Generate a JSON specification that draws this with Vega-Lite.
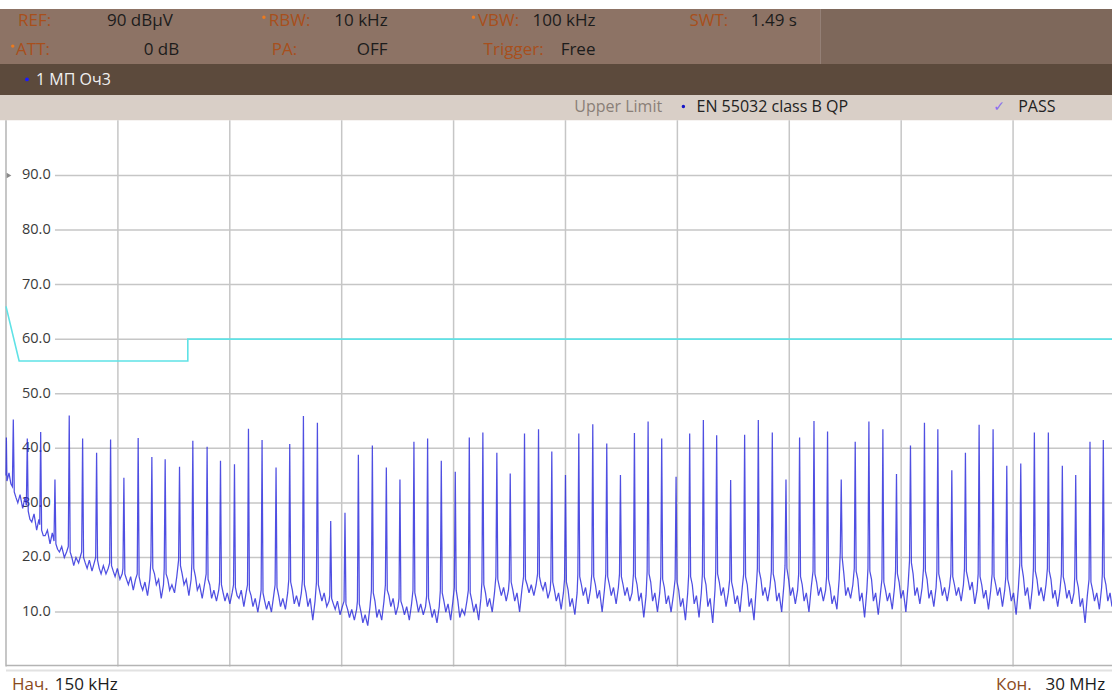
{
 "$schema": "https://vega.github.io/schema/vega-lite/v6.json",
 "width": 1113, "height": 694, "padding": 0,
 "autosize": {"type": "fit", "contains": "padding"},
 "background": "#ffffff",
 "config": {"view": {"stroke": null}, "axis": {"disable": true}, "font": "Open Sans"},
 "data": {"values": [{"note": "annotation"}]},
 "datasets": {
  "trace": [
   {"f":0.15,"v":35},{"f":0.16,"v":42},{"f":0.175,"v":34},{"f":0.23,"v":35.5},{"f":0.28,"v":33.5},
   {"f":0.320,"v":33},{"f":0.345,"v":45.3},{"f":0.370,"v":32},{"f":0.465,"v":30},{"f":0.595,"v":29},
   {"f":0.693,"v":29.5},{"f":0.718,"v":41.8},{"f":0.743,"v":28.5},{"f":0.838,"v":26.5},{"f":0.968,"v":25},
   {"f":1.050,"v":26},{"f":1.075,"v":43.0},{"f":1.100,"v":25},{"f":1.195,"v":24},{"f":1.325,"v":22.5},
   {"f":1.431,"v":23},{"f":1.456,"v":34.3},{"f":1.481,"v":22.5},{"f":1.576,"v":21},{"f":1.706,"v":20},
   {"f":1.812,"v":22},{"f":1.837,"v":46.0},{"f":1.862,"v":21},{"f":1.957,"v":18.5},{"f":2.087,"v":19},
   {"f":2.169,"v":21},{"f":2.194,"v":41.8},{"f":2.219,"v":20},{"f":2.314,"v":18},{"f":2.444,"v":17.5},
   {"f":2.542,"v":20},{"f":2.567,"v":39.2},{"f":2.592,"v":19.5},{"f":2.687,"v":17},{"f":2.817,"v":17},
   {"f":2.915,"v":19},{"f":2.940,"v":41.6},{"f":2.965,"v":18.5},{"f":3.060,"v":16.5},{"f":3.190,"v":16},
   {"f":3.270,"v":18},{"f":3.295,"v":34.6},{"f":3.320,"v":17},{"f":3.415,"v":15},{"f":3.545,"v":14},
   {"f":3.651,"v":17},{"f":3.676,"v":41.9},{"f":3.701,"v":16.5},{"f":3.796,"v":14},{"f":3.926,"v":13},
   {"f":4.016,"v":19.5},{"f":4.041,"v":38.4},{"f":4.066,"v":18},{"f":4.161,"v":15},{"f":4.291,"v":12.5},
   {"f":4.371,"v":18},{"f":4.396,"v":38.0},{"f":4.421,"v":17},{"f":4.516,"v":14},{"f":4.646,"v":13.5},
   {"f":4.754,"v":19.5},{"f":4.779,"v":36.6},{"f":4.804,"v":18.5},{"f":4.899,"v":15},{"f":5.029,"v":13},
   {"f":5.109,"v":19},{"f":5.134,"v":41.4},{"f":5.159,"v":18},{"f":5.254,"v":14},{"f":5.384,"v":12.5},
   {"f":5.490,"v":17},{"f":5.515,"v":40.3},{"f":5.540,"v":16},{"f":5.635,"v":12.5},{"f":5.765,"v":12},
   {"f":5.847,"v":15.5},{"f":5.872,"v":37.7},{"f":5.897,"v":15},{"f":5.992,"v":12},{"f":6.122,"v":11.5},
   {"f":6.220,"v":15},{"f":6.245,"v":37.1},{"f":6.270,"v":14.5},{"f":6.365,"v":12.5},{"f":6.495,"v":11},
   {"f":6.593,"v":15},{"f":6.618,"v":43.6},{"f":6.643,"v":14},{"f":6.738,"v":11},{"f":6.868,"v":10},
   {"f":6.956,"v":14},{"f":6.981,"v":41.5},{"f":7.006,"v":13.5},{"f":7.101,"v":10.5},{"f":7.231,"v":10},
   {"f":7.329,"v":15},{"f":7.354,"v":36.5},{"f":7.379,"v":14.5},{"f":7.474,"v":11},{"f":7.604,"v":10.5},
   {"f":7.694,"v":16},{"f":7.719,"v":40.8},{"f":7.744,"v":15.5},{"f":7.839,"v":11.5},{"f":7.969,"v":11},
   {"f":8.059,"v":16},{"f":8.084,"v":45.9},{"f":8.109,"v":15},{"f":8.204,"v":11},{"f":8.334,"v":8.5},
   {"f":8.432,"v":15.5},{"f":8.457,"v":44.7},{"f":8.482,"v":15},{"f":8.577,"v":12},{"f":8.707,"v":11},
   {"f":8.787,"v":13},{"f":8.812,"v":26.7},{"f":8.837,"v":12.5},{"f":8.932,"v":10.5},{"f":9.062,"v":9.5},
   {"f":9.168,"v":12},{"f":9.193,"v":28.2},{"f":9.218,"v":11.5},{"f":9.313,"v":9},{"f":9.443,"v":8.5},
   {"f":9.525,"v":12},{"f":9.550,"v":38.8},{"f":9.575,"v":11.5},{"f":9.670,"v":8},{"f":9.800,"v":7.5},
   {"f":9.898,"v":14},{"f":9.923,"v":40.5},{"f":9.948,"v":13.5},{"f":10.043,"v":9},{"f":10.173,"v":8.5},
   {"f":10.271,"v":15},{"f":10.296,"v":36.5},{"f":10.321,"v":14},{"f":10.416,"v":11},{"f":10.546,"v":9.5},
   {"f":10.634,"v":12.5},{"f":10.659,"v":34.3},{"f":10.684,"v":12},{"f":10.779,"v":9.5},{"f":10.909,"v":8.5},
   {"f":11.007,"v":14},{"f":11.032,"v":41.2},{"f":11.057,"v":13.5},{"f":11.152,"v":10},{"f":11.282,"v":9.5},
   {"f":11.372,"v":13},{"f":11.397,"v":41.8},{"f":11.422,"v":12.5},{"f":11.517,"v":9},{"f":11.647,"v":8},
   {"f":11.737,"v":14},{"f":11.762,"v":37.7},{"f":11.787,"v":13.5},{"f":11.882,"v":10},{"f":12.012,"v":8.5},
   {"f":12.110,"v":14.5},{"f":12.135,"v":35.7},{"f":12.160,"v":14},{"f":12.255,"v":9},{"f":12.385,"v":9.5},
   {"f":12.484,"v":14},{"f":12.509,"v":42.0},{"f":12.534,"v":13.5},{"f":12.629,"v":10},{"f":12.759,"v":8.5},
   {"f":12.846,"v":15.5},{"f":12.871,"v":42.9},{"f":12.896,"v":15},{"f":12.991,"v":11},{"f":13.121,"v":10},
   {"f":13.219,"v":16.5},{"f":13.244,"v":39.2},{"f":13.269,"v":16},{"f":13.364,"v":13},{"f":13.494,"v":12},
   {"f":13.576,"v":16},{"f":13.601,"v":35.4},{"f":13.626,"v":15.5},{"f":13.721,"v":12},{"f":13.851,"v":10},
   {"f":13.957,"v":16.5},{"f":13.982,"v":42.7},{"f":14.007,"v":16},{"f":14.102,"v":13.5},{"f":14.232,"v":13},
   {"f":14.331,"v":17},{"f":14.356,"v":43.5},{"f":14.381,"v":16.5},{"f":14.476,"v":14},{"f":14.606,"v":12.5},
   {"f":14.685,"v":16},{"f":14.710,"v":39.4},{"f":14.735,"v":15.5},{"f":14.830,"v":12},{"f":14.960,"v":10.5},
   {"f":15.050,"v":16},{"f":15.075,"v":35.1},{"f":15.100,"v":15.5},{"f":15.195,"v":11},{"f":15.325,"v":9.5},
   {"f":15.405,"v":17},{"f":15.430,"v":42.7},{"f":15.455,"v":16.5},{"f":15.550,"v":13},{"f":15.680,"v":11.5},
   {"f":15.778,"v":17},{"f":15.803,"v":44.4},{"f":15.828,"v":16.5},{"f":15.923,"v":12.5},{"f":16.053,"v":10},
   {"f":16.151,"v":17},{"f":16.176,"v":40.9},{"f":16.201,"v":16.5},{"f":16.296,"v":13},{"f":16.426,"v":11.5},
   {"f":16.516,"v":17},{"f":16.541,"v":35.1},{"f":16.566,"v":16.5},{"f":16.661,"v":13},{"f":16.791,"v":12},
   {"f":16.889,"v":17},{"f":16.914,"v":42.8},{"f":16.939,"v":16.5},{"f":17.034,"v":12},{"f":17.164,"v":9},
   {"f":17.254,"v":17.5},{"f":17.279,"v":44.9},{"f":17.304,"v":17},{"f":17.399,"v":12},{"f":17.529,"v":10},
   {"f":17.617,"v":16.5},{"f":17.642,"v":41.8},{"f":17.667,"v":16},{"f":17.762,"v":11.5},{"f":17.892,"v":10},
   {"f":18.000,"v":16},{"f":18.025,"v":34.8},{"f":18.050,"v":15.5},{"f":18.145,"v":11},{"f":18.275,"v":8.5},
   {"f":18.363,"v":17},{"f":18.388,"v":42.7},{"f":18.413,"v":16.5},{"f":18.508,"v":11.5},{"f":18.638,"v":9},
   {"f":18.728,"v":17},{"f":18.753,"v":45.2},{"f":18.778,"v":16.5},{"f":18.873,"v":11},{"f":19.003,"v":8},
   {"f":19.083,"v":17.5},{"f":19.108,"v":42.4},{"f":19.133,"v":17},{"f":19.228,"v":13},{"f":19.358,"v":11},
   {"f":19.456,"v":16},{"f":19.481,"v":34.2},{"f":19.506,"v":15.5},{"f":19.601,"v":11.5},{"f":19.731,"v":10},
   {"f":19.829,"v":17},{"f":19.854,"v":42.5},{"f":19.879,"v":16.5},{"f":19.974,"v":11},{"f":20.104,"v":8.5},
   {"f":20.194,"v":18},{"f":20.219,"v":45.2},{"f":20.244,"v":17.5},{"f":20.339,"v":13},{"f":20.469,"v":12},
   {"f":20.567,"v":17.5},{"f":20.592,"v":42.9},{"f":20.617,"v":17},{"f":20.712,"v":12},{"f":20.842,"v":10},
   {"f":20.932,"v":18.5},{"f":20.957,"v":34.3},{"f":20.982,"v":18},{"f":21.077,"v":13},{"f":21.207,"v":11.5},
   {"f":21.295,"v":17},{"f":21.320,"v":42.0},{"f":21.345,"v":16.5},{"f":21.440,"v":12},{"f":21.570,"v":10},
   {"f":21.679,"v":17.5},{"f":21.704,"v":45.0},{"f":21.729,"v":17},{"f":21.824,"v":13},{"f":21.954,"v":12},
   {"f":22.041,"v":16.5},{"f":22.066,"v":43.1},{"f":22.091,"v":16},{"f":22.186,"v":11.5},{"f":22.316,"v":10.5},
   {"f":22.406,"v":21},{"f":22.431,"v":34.3},{"f":22.456,"v":20},{"f":22.551,"v":13},{"f":22.681,"v":12.5},
   {"f":22.779,"v":18},{"f":22.804,"v":41.2},{"f":22.829,"v":17.5},{"f":22.924,"v":12},{"f":23.054,"v":9},
   {"f":23.144,"v":18},{"f":23.169,"v":44.9},{"f":23.194,"v":17.5},{"f":23.289,"v":12},{"f":23.419,"v":9.5},
   {"f":23.517,"v":16},{"f":23.542,"v":43.5},{"f":23.567,"v":15.5},{"f":23.662,"v":12},{"f":23.792,"v":10.5},
   {"f":23.880,"v":17.5},{"f":23.905,"v":35.3},{"f":23.930,"v":17},{"f":24.025,"v":12.5},{"f":24.155,"v":10},
   {"f":24.253,"v":19.5},{"f":24.278,"v":40.5},{"f":24.303,"v":19},{"f":24.398,"v":13},{"f":24.528,"v":11.5},
   {"f":24.626,"v":18},{"f":24.651,"v":44.7},{"f":24.676,"v":17.5},{"f":24.771,"v":12.5},{"f":24.901,"v":11},
   {"f":24.983,"v":17.5},{"f":25.008,"v":43.5},{"f":25.033,"v":17},{"f":25.128,"v":13},{"f":25.258,"v":12},
   {"f":25.356,"v":17},{"f":25.381,"v":36.0},{"f":25.406,"v":16.5},{"f":25.501,"v":13},{"f":25.631,"v":12},
   {"f":25.719,"v":18},{"f":25.744,"v":39.2},{"f":25.769,"v":17.5},{"f":25.864,"v":14},{"f":25.994,"v":11.5},
   {"f":26.084,"v":17},{"f":26.109,"v":44.3},{"f":26.134,"v":16.5},{"f":26.229,"v":12.5},{"f":26.359,"v":10.5},
   {"f":26.457,"v":17},{"f":26.482,"v":43.5},{"f":26.507,"v":16.5},{"f":26.602,"v":13},{"f":26.732,"v":11},
   {"f":26.822,"v":16.5},{"f":26.847,"v":36.8},{"f":26.872,"v":16},{"f":26.967,"v":12},{"f":27.097,"v":9.5},
   {"f":27.195,"v":19},{"f":27.220,"v":37.2},{"f":27.245,"v":18.5},{"f":27.340,"v":13},{"f":27.470,"v":10.5},
   {"f":27.558,"v":18},{"f":27.583,"v":42.9},{"f":27.608,"v":17.5},{"f":27.703,"v":13},{"f":27.833,"v":12},
   {"f":27.931,"v":18},{"f":27.956,"v":42.9},{"f":27.981,"v":17.5},{"f":28.076,"v":12.5},{"f":28.206,"v":11},
   {"f":28.304,"v":17},{"f":28.329,"v":36.8},{"f":28.354,"v":16.5},{"f":28.449,"v":12.5},{"f":28.579,"v":11.5},
   {"f":28.661,"v":16.5},{"f":28.686,"v":35.1},{"f":28.711,"v":16},{"f":28.806,"v":11},{"f":28.936,"v":8},
   {"f":29.042,"v":16},{"f":29.067,"v":41.2},{"f":29.092,"v":15.5},{"f":29.187,"v":12},{"f":29.317,"v":10.5},
   {"f":29.397,"v":17},{"f":29.422,"v":41.5},{"f":29.447,"v":16.5},{"f":29.542,"v":12},{"f":29.654,"v":11},
   {"f":0.415,"v":31},{"f":0.525,"v":31.5},{"f":0.655,"v":31},
   {"f":0.788,"v":27},{"f":0.898,"v":28},{"f":1.028,"v":27},
   {"f":1.145,"v":24},{"f":1.255,"v":25},{"f":1.385,"v":24.5},
   {"f":1.526,"v":21.5},{"f":1.636,"v":22},{"f":1.766,"v":21},
   {"f":1.907,"v":20},{"f":2.017,"v":20},{"f":2.147,"v":20.5},
   {"f":2.264,"v":19},{"f":2.374,"v":19.5},{"f":2.504,"v":19},
   {"f":2.637,"v":18},{"f":2.747,"v":18.5},{"f":2.877,"v":18},
   {"f":3.010,"v":17.5},{"f":3.120,"v":18},{"f":3.250,"v":17},
   {"f":3.365,"v":16},{"f":3.475,"v":16.5},{"f":3.605,"v":16},
   {"f":3.746,"v":15},{"f":3.856,"v":15.5},{"f":3.986,"v":16},
   {"f":4.111,"v":17},{"f":4.221,"v":16},{"f":4.351,"v":15},
   {"f":4.466,"v":16},{"f":4.576,"v":15},{"f":4.706,"v":16.5},
   {"f":4.849,"v":17},{"f":4.959,"v":16},{"f":5.089,"v":16},
   {"f":5.204,"v":16.5},{"f":5.314,"v":15},{"f":5.444,"v":15},
   {"f":5.585,"v":15},{"f":5.695,"v":14},{"f":5.825,"v":14},
   {"f":5.942,"v":13.5},{"f":6.052,"v":13.5},{"f":6.182,"v":13.5},
   {"f":6.315,"v":13},{"f":6.425,"v":14},{"f":6.555,"v":13.5},
   {"f":6.688,"v":13},{"f":6.798,"v":12.5},{"f":6.928,"v":12.5},
   {"f":7.051,"v":12},{"f":7.161,"v":12},{"f":7.291,"v":13},
   {"f":7.424,"v":13},{"f":7.534,"v":12.5},{"f":7.664,"v":13.5},
   {"f":7.789,"v":14},{"f":7.899,"v":13},{"f":8.029,"v":13.5},
   {"f":8.154,"v":13.5},{"f":8.264,"v":12.5},{"f":8.394,"v":12},
   {"f":8.527,"v":13.5},{"f":8.637,"v":13.5},{"f":8.767,"v":12},
   {"f":8.882,"v":11.5},{"f":8.992,"v":12},{"f":9.122,"v":11},
   {"f":9.263,"v":10.5},{"f":9.373,"v":10.5},{"f":9.503,"v":10.5},
   {"f":9.620,"v":10},{"f":9.730,"v":9.5},{"f":9.860,"v":11},
   {"f":9.993,"v":12},{"f":10.103,"v":10.5},{"f":10.233,"v":12},
   {"f":10.366,"v":13},{"f":10.476,"v":12.5},{"f":10.606,"v":11},
   {"f":10.729,"v":11},{"f":10.839,"v":11},{"f":10.969,"v":11.5},
   {"f":11.102,"v":12},{"f":11.212,"v":11.5},{"f":11.342,"v":11},
   {"f":11.467,"v":11},{"f":11.577,"v":10.5},{"f":11.707,"v":11},
   {"f":11.832,"v":12},{"f":11.942,"v":11.5},{"f":12.072,"v":12},
   {"f":12.205,"v":12},{"f":12.315,"v":10.5},{"f":12.445,"v":12},
   {"f":12.579,"v":12},{"f":12.689,"v":11.5},{"f":12.819,"v":12.5},
   {"f":12.941,"v":13.5},{"f":13.051,"v":12.5},{"f":13.181,"v":13.5},
   {"f":13.314,"v":14.5},{"f":13.424,"v":14.5},{"f":13.554,"v":14},
   {"f":13.671,"v":14},{"f":13.781,"v":13.5},{"f":13.911,"v":14},
   {"f":14.052,"v":15},{"f":14.162,"v":15},{"f":14.292,"v":15},
   {"f":14.426,"v":15},{"f":14.536,"v":15.5},{"f":14.666,"v":14},
   {"f":14.780,"v":14},{"f":14.890,"v":13.5},{"f":15.020,"v":13.5},
   {"f":15.145,"v":14},{"f":15.255,"v":12.5},{"f":15.385,"v":13.5},
   {"f":15.500,"v":15},{"f":15.610,"v":14.5},{"f":15.740,"v":14},
   {"f":15.873,"v":15},{"f":15.983,"v":14},{"f":16.113,"v":14},
   {"f":16.246,"v":15},{"f":16.356,"v":14.5},{"f":16.486,"v":14.5},
   {"f":16.611,"v":15},{"f":16.721,"v":14.5},{"f":16.851,"v":13.5},
   {"f":16.984,"v":15},{"f":17.094,"v":13.5},{"f":17.224,"v":13},
   {"f":17.349,"v":15.5},{"f":17.459,"v":13.5},{"f":17.589,"v":13.5},
   {"f":17.712,"v":14.5},{"f":17.822,"v":13},{"f":17.952,"v":13},
   {"f":18.095,"v":14},{"f":18.205,"v":12.5},{"f":18.335,"v":13.5},
   {"f":18.458,"v":15},{"f":18.568,"v":13},{"f":18.698,"v":13.5},
   {"f":18.823,"v":15},{"f":18.933,"v":12.5},{"f":19.063,"v":14},
   {"f":19.178,"v":15.5},{"f":19.288,"v":14.5},{"f":19.418,"v":13.5},
   {"f":19.551,"v":14},{"f":19.661,"v":13},{"f":19.791,"v":14.5},
   {"f":19.924,"v":15},{"f":20.034,"v":12.5},{"f":20.164,"v":14.5},
   {"f":20.289,"v":16},{"f":20.399,"v":14.5},{"f":20.529,"v":14.5},
   {"f":20.662,"v":15.5},{"f":20.772,"v":13.5},{"f":20.902,"v":15},
   {"f":21.027,"v":16},{"f":21.137,"v":14.5},{"f":21.267,"v":14},
   {"f":21.390,"v":15},{"f":21.500,"v":13.5},{"f":21.630,"v":14.5},
   {"f":21.774,"v":15.5},{"f":21.884,"v":14.5},{"f":22.014,"v":14},
   {"f":22.136,"v":14.5},{"f":22.246,"v":13},{"f":22.376,"v":16},
   {"f":22.501,"v":17},{"f":22.611,"v":14.5},{"f":22.741,"v":15},
   {"f":22.874,"v":16},{"f":22.984,"v":13.5},{"f":23.114,"v":14},
   {"f":23.239,"v":16},{"f":23.349,"v":13.5},{"f":23.479,"v":13.5},
   {"f":23.612,"v":14},{"f":23.722,"v":13.5},{"f":23.852,"v":14.5},
   {"f":23.975,"v":15.5},{"f":24.085,"v":14},{"f":24.215,"v":15},
   {"f":24.348,"v":17},{"f":24.458,"v":14.5},{"f":24.588,"v":14.5},
   {"f":24.721,"v":16},{"f":24.831,"v":14},{"f":24.961,"v":14.5},
   {"f":25.078,"v":15.5},{"f":25.188,"v":14.5},{"f":25.318,"v":14.5},
   {"f":25.451,"v":15},{"f":25.561,"v":14.5},{"f":25.691,"v":15},
   {"f":25.814,"v":16},{"f":25.924,"v":15.5},{"f":26.054,"v":14},
   {"f":26.179,"v":15},{"f":26.289,"v":14},{"f":26.419,"v":14},
   {"f":26.552,"v":15},{"f":26.662,"v":14.5},{"f":26.792,"v":14},
   {"f":26.917,"v":14.5},{"f":27.027,"v":13.5},{"f":27.157,"v":14.5},
   {"f":27.290,"v":16.5},{"f":27.400,"v":14.5},{"f":27.530,"v":14.5},
   {"f":27.653,"v":16},{"f":27.763,"v":14.5},{"f":27.893,"v":15},
   {"f":28.026,"v":16},{"f":28.136,"v":14},{"f":28.266,"v":14},
   {"f":28.399,"v":15},{"f":28.509,"v":14},{"f":28.639,"v":13.5},
   {"f":28.756,"v":14.5},{"f":28.866,"v":12.5},{"f":28.996,"v":13},
   {"f":29.137,"v":14},{"f":29.247,"v":13.5},{"f":29.377,"v":14.5},
   {"f":29.492,"v":15},{"f":29.602,"v":13.5}
  ],
  "limit": [
   {"i":0,"f":0.15,"v":66},{"i":1,"f":0.5,"v":56},{"i":2,"f":5.0,"v":56},{"i":3,"f":5.0,"v":60},{"i":4,"f":30.0,"v":60}
  ],
  "vgrid": [{"f":3.135},{"f":6.12},{"f":9.105},{"f":12.09},{"f":15.075},{"f":18.06},{"f":21.045},{"f":24.03},{"f":27.015}],
  "hgrid": [{"lvl":10},{"lvl":20},{"lvl":30},{"lvl":40},{"lvl":50},{"lvl":60},{"lvl":70},{"lvl":80},{"lvl":90}]
 },
 "layer": [
  {"mark": {"type": "rect", "color": "#8d7365"},
   "encoding": {"x": {"datum": -0.01, "type": "quantitative", "scale": {"domain": [-0.01, 29.654], "nice": false, "zero": false}}, "x2": {"datum": 21.87},
                "y": {"datum": 110.43, "type": "quantitative", "scale": {"domain": [-5.02, 122.15], "nice": false, "zero": false}}, "y2": {"datum": 120.5}}},
  {"mark": {"type": "rect", "color": "#7e685b"},
   "encoding": {"x": {"datum": 21.87, "type": "quantitative"}, "x2": {"datum": 29.654}, "y": {"datum": 110.43, "type": "quantitative"}, "y2": {"datum": 120.5}}},
  {"mark": {"type": "rect", "color": "#5c4a3c"},
   "encoding": {"x": {"datum": -0.01, "type": "quantitative"}, "x2": {"datum": 29.654}, "y": {"datum": 104.75, "type": "quantitative"}, "y2": {"datum": 110.43}}},
  {"mark": {"type": "rect", "color": "#d9cfc7"},
   "encoding": {"x": {"datum": -0.01, "type": "quantitative"}, "x2": {"datum": 29.654}, "y": {"datum": 100.1, "type": "quantitative"}, "y2": {"datum": 104.75}}},
  {"data": {"name": "vgrid"}, "mark": {"type": "rule", "color": "#c6c6c6", "strokeWidth": 1.5},
   "encoding": {"x": {"field": "f", "type": "quantitative"}, "y": {"datum": 0, "type": "quantitative"}, "y2": {"datum": 100.1}}},
  {"data": {"name": "hgrid"}, "mark": {"type": "rule", "color": "#c6c6c6", "strokeWidth": 1.5},
   "encoding": {"y": {"field": "lvl", "type": "quantitative"}, "x": {"datum": 1.456, "type": "quantitative"}, "x2": {"datum": 29.654}}},
  {"mark": {"type": "rule", "color": "#b4b4b4", "strokeWidth": 1.5},
   "encoding": {"x": {"datum": 0.15, "type": "quantitative"}, "y": {"datum": 0, "type": "quantitative"}, "y2": {"datum": 100.1}}},
  {"mark": {"type": "rule", "color": "#b4b4b4", "strokeWidth": 1.5},
   "encoding": {"y": {"datum": 0.2, "type": "quantitative"}, "x": {"datum": 0.15, "type": "quantitative"}, "x2": {"datum": 29.654}}},
  {"mark": {"type": "rule", "color": "#e2e2e2", "strokeWidth": 2},
   "encoding": {"y": {"datum": -0.7, "type": "quantitative"}, "x": {"datum": 0.15, "type": "quantitative"}, "x2": {"datum": 29.654}}},
  {"data": {"name": "hgrid"}, "mark": {"type": "text", "align": "left", "baseline": "middle", "fontSize": 14.5, "color": "#3a3a3a"},
   "encoding": {"y": {"field": "lvl", "type": "quantitative"}, "x": {"datum": 0.577, "type": "quantitative"}, "text": {"field": "lvl", "type": "quantitative", "format": ".1f"}}},
  {"mark": {"type": "point", "shape": "triangle-right", "filled": true, "size": 30, "color": "#8a8a8a", "opacity": 1},
   "encoding": {"x": {"datum": 0.23, "type": "quantitative"}, "y": {"datum": 90, "type": "quantitative"}}},
  {"data": {"name": "limit"}, "mark": {"type": "line", "color": "#5fe2e6", "strokeWidth": 1.6, "clip": true},
   "encoding": {"x": {"field": "f", "type": "quantitative", "scale": {"domain": [-0.01, 29.654], "nice": false, "zero": false}}, "y": {"field": "v", "type": "quantitative"}, "order": {"field": "i", "type": "quantitative"}}},
  {"data": {"name": "trace"}, "mark": {"type": "line", "color": "#2828dc", "strokeWidth": 1.25, "opacity": 0.82, "clip": true},
   "encoding": {"x": {"field": "f", "type": "quantitative", "sort": "ascending", "scale": {"domain": [-0.01, 29.654], "nice": false, "zero": false}}, "y": {"field": "v", "type": "quantitative"}}},

  {"mark": {"type": "text", "text": "REF:", "align": "left", "baseline": "middle", "fontSize": 17, "color": "#a84f1c"}, "encoding": {"x": {"datum": 0.47, "type": "quantitative"}, "y": {"datum": 118.3, "type": "quantitative"}}},
  {"mark": {"type": "text", "text": "90 dBμV", "align": "right", "baseline": "middle", "fontSize": 17, "color": "#1c1c1c"}, "encoding": {"x": {"datum": 4.6, "type": "quantitative"}, "y": {"datum": 118.3, "type": "quantitative"}}},
  {"mark": {"type": "point", "shape": "circle", "filled": true, "size": 12, "color": "#ec7a1e", "opacity": 1}, "encoding": {"x": {"datum": 7.03, "type": "quantitative"}, "y": {"datum": 119.0, "type": "quantitative"}}},
  {"mark": {"type": "text", "text": "RBW:", "align": "left", "baseline": "middle", "fontSize": 17, "color": "#a84f1c"}, "encoding": {"x": {"datum": 7.16, "type": "quantitative"}, "y": {"datum": 118.3, "type": "quantitative"}}},
  {"mark": {"type": "text", "text": "10 kHz", "align": "right", "baseline": "middle", "fontSize": 17, "color": "#1c1c1c"}, "encoding": {"x": {"datum": 10.33, "type": "quantitative"}, "y": {"datum": 118.3, "type": "quantitative"}}},
  {"mark": {"type": "point", "shape": "circle", "filled": true, "size": 12, "color": "#ec7a1e", "opacity": 1}, "encoding": {"x": {"datum": 12.62, "type": "quantitative"}, "y": {"datum": 119.0, "type": "quantitative"}}},
  {"mark": {"type": "text", "text": "VBW:", "align": "left", "baseline": "middle", "fontSize": 17, "color": "#a84f1c"}, "encoding": {"x": {"datum": 12.74, "type": "quantitative"}, "y": {"datum": 118.3, "type": "quantitative"}}},
  {"mark": {"type": "text", "text": "100 kHz", "align": "right", "baseline": "middle", "fontSize": 17, "color": "#1c1c1c"}, "encoding": {"x": {"datum": 15.875, "type": "quantitative"}, "y": {"datum": 118.3, "type": "quantitative"}}},
  {"mark": {"type": "text", "text": "SWT:", "align": "left", "baseline": "middle", "fontSize": 17, "color": "#a84f1c"}, "encoding": {"x": {"datum": 18.38, "type": "quantitative"}, "y": {"datum": 118.3, "type": "quantitative"}}},
  {"mark": {"type": "text", "text": "1.49 s", "align": "right", "baseline": "middle", "fontSize": 17, "color": "#1c1c1c"}, "encoding": {"x": {"datum": 21.25, "type": "quantitative"}, "y": {"datum": 118.3, "type": "quantitative"}}},

  {"mark": {"type": "point", "shape": "circle", "filled": true, "size": 12, "color": "#ec7a1e", "opacity": 1}, "encoding": {"x": {"datum": 0.33, "type": "quantitative"}, "y": {"datum": 113.7, "type": "quantitative"}}},
  {"mark": {"type": "text", "text": "ATT:", "align": "left", "baseline": "middle", "fontSize": 17, "color": "#a84f1c"}, "encoding": {"x": {"datum": 0.42, "type": "quantitative"}, "y": {"datum": 113.0, "type": "quantitative"}}},
  {"mark": {"type": "text", "text": "0 dB", "align": "right", "baseline": "middle", "fontSize": 17, "color": "#1c1c1c"}, "encoding": {"x": {"datum": 4.77, "type": "quantitative"}, "y": {"datum": 113.0, "type": "quantitative"}}},
  {"mark": {"type": "text", "text": "PA:", "align": "left", "baseline": "middle", "fontSize": 17, "color": "#a84f1c"}, "encoding": {"x": {"datum": 7.24, "type": "quantitative"}, "y": {"datum": 113.0, "type": "quantitative"}}},
  {"mark": {"type": "text", "text": "OFF", "align": "right", "baseline": "middle", "fontSize": 17, "color": "#1c1c1c"}, "encoding": {"x": {"datum": 10.33, "type": "quantitative"}, "y": {"datum": 113.0, "type": "quantitative"}}},
  {"mark": {"type": "text", "text": "Trigger:", "align": "left", "baseline": "middle", "fontSize": 17, "color": "#a84f1c"}, "encoding": {"x": {"datum": 12.89, "type": "quantitative"}, "y": {"datum": 113.0, "type": "quantitative"}}},
  {"mark": {"type": "text", "text": "Free", "align": "right", "baseline": "middle", "fontSize": 17, "color": "#1c1c1c"}, "encoding": {"x": {"datum": 15.875, "type": "quantitative"}, "y": {"datum": 113.0, "type": "quantitative"}}},

  {"mark": {"type": "point", "shape": "circle", "filled": true, "size": 14, "color": "#1a1aff", "opacity": 1}, "encoding": {"x": {"datum": 0.71, "type": "quantitative"}, "y": {"datum": 107.6, "type": "quantitative"}}},
  {"mark": {"type": "text", "text": "1 МП  Оч3", "align": "left", "baseline": "middle", "fontSize": 16, "color": "#f0f0f0"}, "encoding": {"x": {"datum": 0.95, "type": "quantitative"}, "y": {"datum": 107.5, "type": "quantitative"}}},

  {"mark": {"type": "text", "text": "Upper Limit", "align": "left", "baseline": "middle", "fontSize": 16, "color": "#8a7f78"}, "encoding": {"x": {"datum": 15.31, "type": "quantitative"}, "y": {"datum": 102.5, "type": "quantitative"}}},
  {"mark": {"type": "point", "shape": "circle", "filled": true, "size": 12, "color": "#1515c8", "opacity": 1}, "encoding": {"x": {"datum": 18.22, "type": "quantitative"}, "y": {"datum": 102.65, "type": "quantitative"}}},
  {"mark": {"type": "text", "text": "EN 55032 class B QP", "align": "left", "baseline": "middle", "fontSize": 16, "color": "#222222"}, "encoding": {"x": {"datum": 18.57, "type": "quantitative"}, "y": {"datum": 102.5, "type": "quantitative"}}},
  {"mark": {"type": "text", "text": "✓", "align": "center", "baseline": "middle", "fontSize": 14, "font": "DejaVu Sans", "color": "#8a6ef0"}, "encoding": {"x": {"datum": 26.64, "type": "quantitative"}, "y": {"datum": 102.5, "type": "quantitative"}}},
  {"mark": {"type": "text", "text": "PASS", "align": "left", "baseline": "middle", "fontSize": 16, "color": "#222222"}, "encoding": {"x": {"datum": 27.15, "type": "quantitative"}, "y": {"datum": 102.5, "type": "quantitative"}}},

  {"mark": {"type": "text", "text": "Нач.", "align": "left", "baseline": "middle", "fontSize": 17, "color": "#8a4a1c"}, "encoding": {"x": {"datum": 0.31, "type": "quantitative"}, "y": {"datum": -3.3, "type": "quantitative"}}},
  {"mark": {"type": "text", "text": "150 kHz", "align": "left", "baseline": "middle", "fontSize": 17, "color": "#1c1c1c"}, "encoding": {"x": {"datum": 1.45, "type": "quantitative"}, "y": {"datum": -3.3, "type": "quantitative"}}},
  {"mark": {"type": "text", "text": "Кон.", "align": "left", "baseline": "middle", "fontSize": 17, "color": "#8a4a1c"}, "encoding": {"x": {"datum": 26.56, "type": "quantitative"}, "y": {"datum": -3.3, "type": "quantitative"}}},
  {"mark": {"type": "text", "text": "30 MHz", "align": "right", "baseline": "middle", "fontSize": 17, "color": "#1c1c1c"}, "encoding": {"x": {"datum": 29.47, "type": "quantitative"}, "y": {"datum": -3.3, "type": "quantitative"}}}
 ]
}
